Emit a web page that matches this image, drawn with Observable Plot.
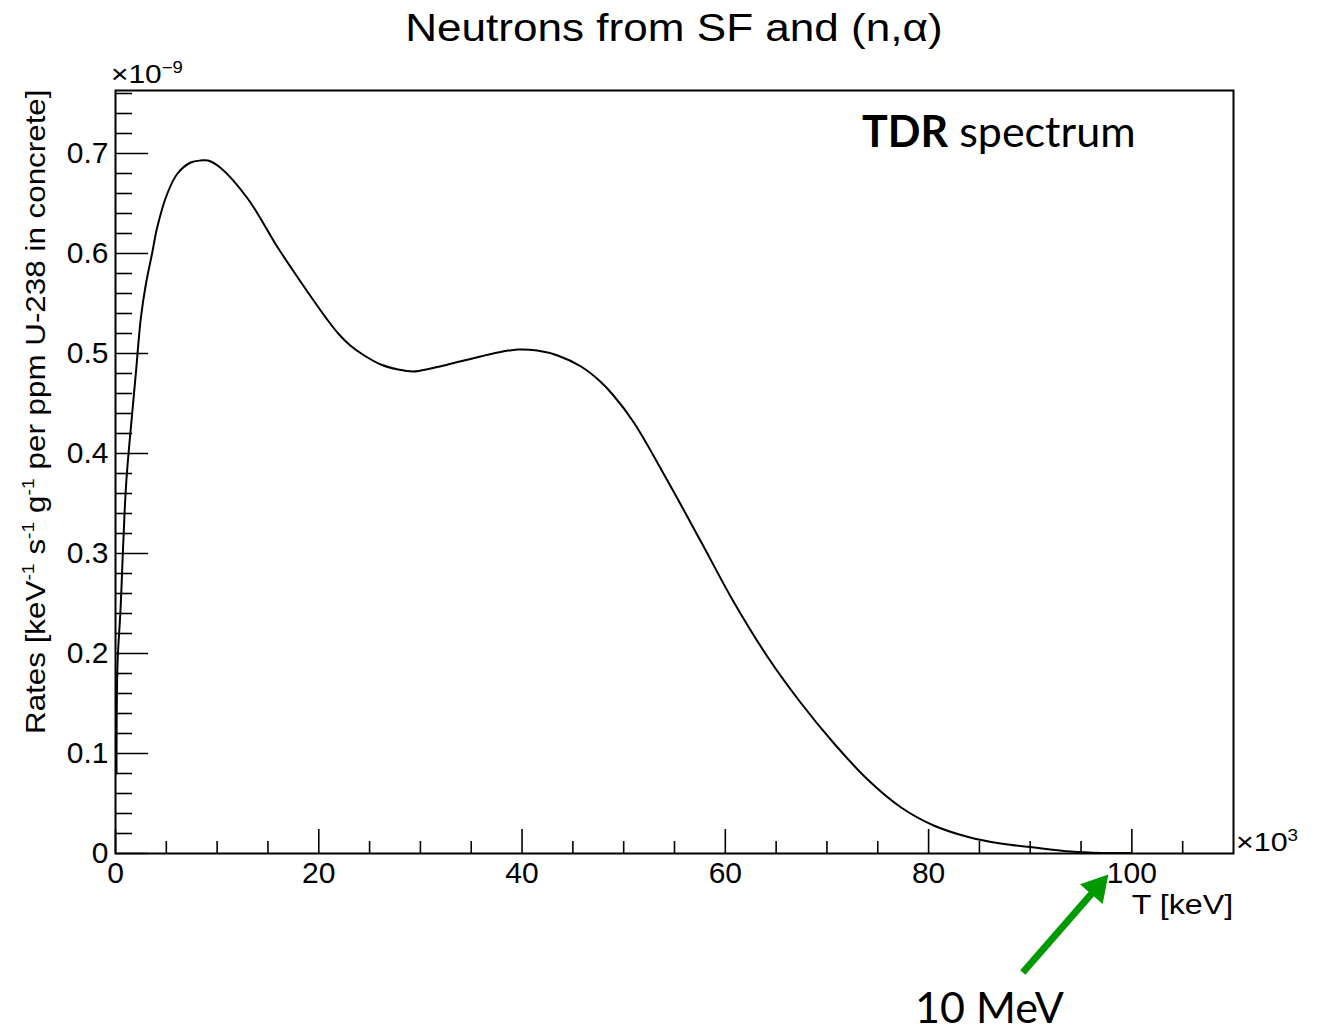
<!DOCTYPE html>
<html><head><meta charset="utf-8">
<script src="https://cdn.jsdelivr.net/npm/d3@7"></script>
<script src="https://cdn.jsdelivr.net/npm/@observablehq/plot@0.6"></script>
<style>
body{margin:0;background:#fff;}
#wrap{position:relative;width:1322px;height:1032px;overflow:hidden;font-family:"Liberation Sans",Arial,sans-serif;color:#000;}
.abs{position:absolute;white-space:nowrap;line-height:1;}
.sup{font-size:0.62em;position:relative;top:-0.62em;}
.cal{font-family:Lato,"Open Sans",sans-serif;}
</style></head><body>
<div id="wrap"></div>
<script>
// Energy T in units of 10^3 keV
const energy = [0.1, 0.2, 0.49, 0.72, 0.89, 1.05, 1.28, 1.64, 2.0, 2.5, 3.0, 3.6, 4.1, 5.1, 6.1, 7.4, 8.4, 9.1, 10.3, 13.0, 15.9, 18.2, 20.9, 22.0, 23.1, 24.4, 26.1, 27.8, 29.3, 31.0, 32.7, 34.3, 35.9, 37.6, 39.6, 41.5, 43.5, 45.8, 47.7, 49.0, 51.0, 54.3, 57.6, 60.8, 64.2, 67.4, 70.7, 74.0, 77.3, 80.5, 83.9, 87.1, 90.4, 94.0, 97.0, 100.0];
// Rate in units of 10^-9 keV^-1 s^-1 g^-1 per ppm U-238
const rate = [0.08, 0.19, 0.243, 0.30, 0.34, 0.37, 0.40, 0.44, 0.48, 0.536, 0.57, 0.60, 0.626, 0.66, 0.68, 0.691, 0.693, 0.693, 0.686, 0.655, 0.607, 0.572, 0.533, 0.519, 0.508, 0.4985, 0.489, 0.484, 0.482, 0.485, 0.489, 0.493, 0.497, 0.501, 0.504, 0.503, 0.498, 0.487, 0.472, 0.458, 0.431, 0.373, 0.312, 0.252, 0.196, 0.151, 0.110, 0.074, 0.046, 0.028, 0.0165, 0.010, 0.006, 0.002, 0.0006, 0.0005];

const xMajorTicks = [0, 20, 40, 60, 80, 100];
const xMinorTicks = [5, 10, 15, 25, 30, 35, 45, 50, 55, 65, 70, 75, 85, 90, 95, 105];
const yMajorTicks = [0, 0.1, 0.2, 0.3, 0.4, 0.5, 0.6, 0.7];
const yMinorTicks = [0.02,0.04,0.06,0.08,0.12,0.14,0.16,0.18,0.22,0.24,0.26,0.28,0.32,0.34,0.36,0.38,0.42,0.44,0.46,0.48,0.52,0.54,0.56,0.58,0.62,0.64,0.66,0.68,0.72,0.74,0.76];
const yTickLabels = ["0", "0.1", "0.2", "0.3", "0.4", "0.5", "0.6", "0.7"];

// Annotation arrow (points to T = 100 ×10^3 keV = 10 MeV), in data units
const arrowTail = {x: 89.27, y: -0.119};
const arrowHead = {x: 96.57, y: -0.034};

const data = energy.map((e, i) => ({e, r: rate[i]}));
const green = "#009a00";

const plot = Plot.plot({
  width: 1322, height: 1032,
  marginLeft: 115, marginRight: 89, marginTop: 90, marginBottom: 179,
  style: {fontFamily: "'Liberation Sans', Arial, sans-serif", background: "transparent", color: "#000"},
  x: {domain: [0, 110]},
  y: {domain: [0, 0.763]},
  marks: [
    Plot.axisY({ticks: yMinorTicks, tickSize: -17, tickFormat: () => "", strokeWidth: 1.6, label: null}),
    Plot.axisY({ticks: yMajorTicks, tickSize: -33, tickFormat: () => "", strokeWidth: 1.6, label: null}),
    Plot.axisY({ticks: yMajorTicks, tickSize: 0, tickPadding: 7, fontSize: 30, tickFormat: d => yTickLabels[yMajorTicks.indexOf(d)], label: null}),
    Plot.axisX({ticks: xMinorTicks, tickSize: -12, tickFormat: () => "", strokeWidth: 1.6, label: null}),
    Plot.axisX({ticks: xMajorTicks, tickSize: -24, tickFormat: () => "", strokeWidth: 1.6, label: null}),
    Plot.axisX({ticks: xMajorTicks, tickSize: 0, tickPadding: 8, fontSize: 30, tickFormat: d => String(d), label: null}),
    Plot.line(data, {x: "e", y: "r", stroke: "#000", strokeWidth: 2, curve: "catmull-rom"}),
    Plot.frame({stroke: "#000", strokeWidth: 2}),
    Plot.link([{}], {x1: () => arrowTail.x, y1: () => arrowTail.y, x2: () => arrowHead.x, y2: () => arrowHead.y, stroke: green, strokeWidth: 7}),
    Plot.dot([arrowHead], {x: "x", y: "y", symbol: "triangle", r: 10.5, rotate: 41, fill: green, stroke: green, strokeWidth: 1})
  ]
});

const wrap = document.getElementById("wrap");
wrap.appendChild(plot);
plot.style.position = "absolute";
plot.style.left = "0px";
plot.style.top = "0px";

function addText(html, css, cls) {
  const d = document.createElement("div");
  d.className = "abs" + (cls ? " " + cls : "");
  d.innerHTML = html;
  Object.assign(d.style, css);
  wrap.appendChild(d);
  return d;
}
addText("Neutrons from SF and (n,α)", {left: "0px", width: "1348px", textAlign: "center", top: "9px", fontSize: "38px", transformOrigin: "674px 0", transform: "scaleX(1.16)"});
addText("×10<span class='sup'>−9</span>", {left: "111px", top: "61px", fontSize: "26px", transformOrigin: "0 0", transform: "scaleX(1.15)"});
addText("×10<span class='sup'>3</span>", {left: "1236px", top: "829px", fontSize: "26px", transformOrigin: "0 0", transform: "scaleX(1.17)"});
addText("T [keV]", {right: "89px", top: "891px", fontSize: "28px", transformOrigin: "100% 0", transform: "scaleX(1.15)"});
addText("Rates [keV<span class='sup'>-1</span> s<span class='sup'>-1</span> g<span class='sup'>-1</span> per ppm U-238 in concrete]",
  {left: "22px", top: "734px", fontSize: "28px", transformOrigin: "0 0", transform: "rotate(-90deg) scaleX(1.12)"});
addText("<b>TDR</b> spectrum", {left: "862px", top: "109px", fontSize: "43px"}, "cal");
addText("10 MeV", {left: "915px", top: "985px", fontSize: "43px"}, "cal");
</script>
</body></html>
